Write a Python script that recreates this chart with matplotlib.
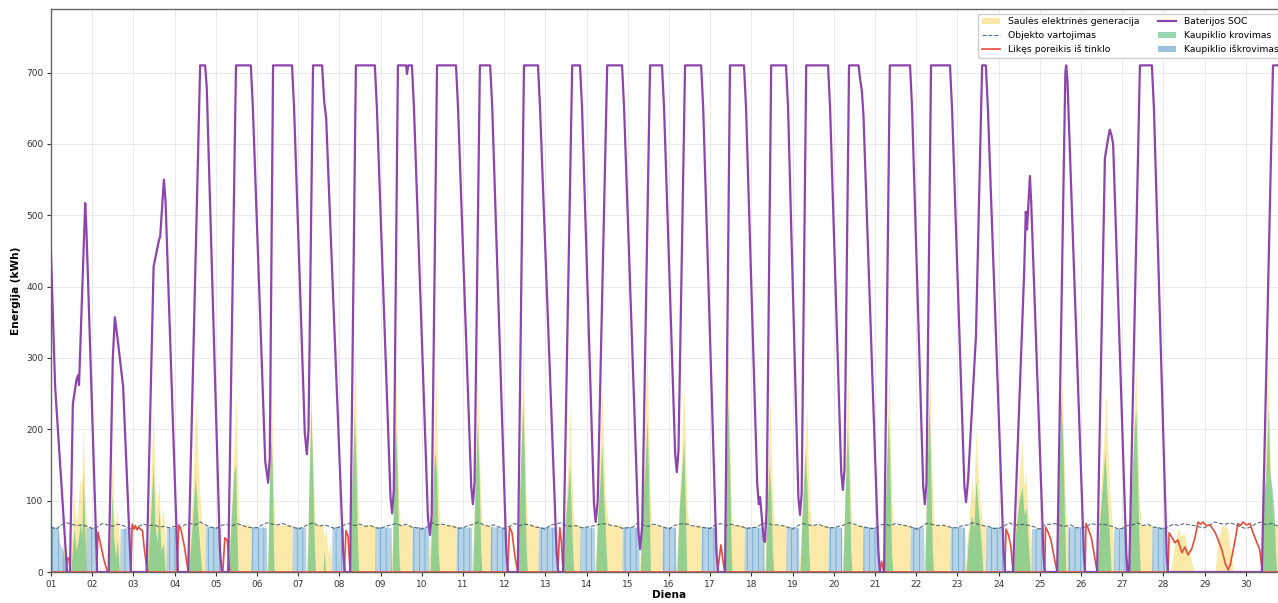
import numpy as np
import matplotlib
matplotlib.use('Agg')
import matplotlib.pyplot as plt
from matplotlib.patches import Patch
from matplotlib.lines import Line2D

# laikas dienomis nuo menesio pradzios (0 = 01 d. 00:00)
day_labels = ['%02d' % d for d in range(1, 31)]

# baterijos SOC (laikas, kWh)
soc_pts = [
    (0.00, 445), (0.10, 260), (0.39, 0), (0.46, 0), (0.53, 235), (0.62, 270), (0.66, 276), (0.68, 262),
    (0.83, 517), (0.86, 480), (1.12, 0),
    (1.40, 0), (1.50, 300), (1.55, 357), (1.62, 325), (1.75, 260), (1.94, 0),
    (2.32, 0), (2.49, 428), (2.62, 465), (2.65, 470), (2.74, 550), (2.78, 520), (3.08, 0),
    (3.33, 0), (3.62, 710), (3.74, 710), (3.78, 680), (4.10, 30), (4.15, 0),
    (4.30, 0), (4.49, 710), (4.85, 710), (4.90, 650), (5.20, 155), (5.27, 125), (5.31, 160), (5.39, 710),
    (5.85, 710), (5.90, 650), (6.16, 195), (6.21, 165), (6.25, 200), (6.36, 710),
    (6.58, 710), (6.63, 660), (6.68, 635), (6.73, 560), (7.09, 30), (7.13, 0),
    (7.26, 0), (7.40, 710),
    (7.86, 710), (7.91, 650), (8.24, 105), (8.28, 82), (8.32, 115), (8.42, 710),
    (8.62, 710), (8.64, 698), (8.67, 710), (8.76, 710), (8.81, 650), (9.15, 75), (9.20, 52), (9.24, 80), (9.37, 710),
    (9.83, 710), (9.88, 650), (10.20, 120), (10.24, 95), (10.28, 125), (10.41, 710),
    (10.66, 710), (10.71, 650), (11.05, 30), (11.09, 0), (11.33, 0), (11.48, 710),
    (11.82, 710), (11.87, 650), (12.27, 30), (12.31, 0), (12.43, 0), (12.65, 710),
    (12.84, 710), (12.89, 650), (13.18, 95), (13.22, 70), (13.27, 100), (13.50, 710),
    (13.86, 710), (13.91, 650), (14.26, 55), (14.30, 32), (14.35, 65), (14.54, 710),
    (14.83, 710), (14.88, 650), (15.15, 165), (15.19, 140), (15.23, 170), (15.39, 710),
    (15.78, 710), (15.83, 650), (16.15, 30), (16.19, 0), (16.36, 0), (16.48, 710),
    (16.82, 710), (16.87, 650), (17.14, 125), (17.18, 95), (17.21, 105), (17.24, 85), (17.30, 45), (17.33, 42),
    (17.37, 90), (17.48, 710),
    (17.84, 710), (17.89, 650), (18.14, 105), (18.18, 80), (18.22, 110), (18.33, 710),
    (18.86, 710), (18.91, 650), (19.18, 140), (19.22, 115), (19.26, 145), (19.37, 710),
    (19.60, 710), (19.64, 690), (19.68, 675), (19.72, 640), (20.08, 30), (20.12, 0), (20.22, 0), (20.36, 710),
    (20.85, 710), (20.90, 650), (21.17, 120), (21.21, 95), (21.25, 125), (21.36, 710),
    (21.82, 710), (21.87, 650), (22.17, 120), (22.21, 98), (22.26, 130), (22.45, 330), (22.60, 710),
    (22.69, 710), (22.74, 650), (23.12, 30), (23.16, 0), (23.35, 0), (23.62, 420), (23.66, 505), (23.69, 480),
    (23.76, 555), (23.79, 520), (24.09, 25), (24.12, 0),
    (24.42, 0), (24.62, 700), (24.64, 710), (24.67, 690), (25.07, 25), (25.10, 0),
    (25.39, 0), (25.58, 580), (25.65, 605), (25.70, 620), (25.74, 612), (25.78, 600), (26.10, 25), (26.13, 0),
    (26.17, 0), (26.43, 710),
    (26.72, 710), (26.77, 650), (27.08, 25), (27.11, 0),
    (29.39, 0), (29.66, 710), (30.20, 710),
]

# saules elektrines generacija
pv_pts = [
    (0.00, 0), (0.20, 0), (0.25, 25), (0.30, 45), (0.35, 20), (0.38, 0),
    (0.47, 0), (0.50, 40), (0.55, 115), (0.60, 70), (0.65, 85), (0.70, 130), (0.74, 110), (0.78, 200),
    (0.82, 120), (0.86, 70), (0.90, 40), (0.95, 0),
    (1.38, 0), (1.42, 40), (1.46, 110), (1.49, 170), (1.52, 90), (1.56, 60), (1.61, 90), (1.65, 50), (1.70, 25), (1.74, 0),
    (2.30, 0), (2.36, 50), (2.42, 120), (2.48, 230), (2.52, 130), (2.57, 90), (2.62, 130), (2.66, 60), (2.72, 90),
    (2.78, 40), (2.82, 0),
    (3.30, 0), (3.36, 40), (3.44, 110), (3.49, 200), (3.53, 240), (3.57, 150), (3.62, 100), (3.67, 66), (3.74, 66), (3.75, 0),
    (4.29, 0), (4.33, 40), (4.40, 120), (4.46, 200), (4.49, 250), (4.52, 160), (4.55, 95), (4.58, 66), (4.85, 66), (4.86, 0),
    (5.23, 0), (5.27, 30), (5.31, 150), (5.34, 305), (5.37, 200), (5.40, 110), (5.44, 66), (5.85, 66), (5.86, 0),
    (6.19, 0), (6.23, 40), (6.27, 150), (6.31, 265), (6.34, 180), (6.38, 110), (6.42, 66), (6.58, 66), (6.62, 50),
    (6.68, 60), (6.72, 25), (6.78, 40), (6.82, 0),
    (7.24, 0), (7.28, 60), (7.33, 180), (7.38, 320), (7.41, 200), (7.45, 100), (7.48, 66), (7.86, 66), (7.87, 0),
    (8.25, 0), (8.29, 50), (8.33, 170), (8.37, 285), (8.40, 190), (8.44, 100), (8.48, 66), (8.76, 66), (8.77, 0),
    (9.17, 0), (9.21, 50), (9.28, 150), (9.34, 280), (9.37, 190), (9.41, 100), (9.45, 66), (9.83, 66), (9.84, 0),
    (10.21, 0), (10.25, 50), (10.31, 160), (10.36, 270), (10.39, 180), (10.43, 100), (10.47, 66), (10.66, 66), (10.67, 0),
    (11.31, 0), (11.35, 60), (11.41, 180), (11.46, 320), (11.49, 200), (11.53, 100), (11.57, 66), (11.82, 66), (11.83, 0),
    (12.41, 0), (12.45, 50), (12.52, 120), (12.57, 170), (12.60, 240), (12.63, 150), (12.67, 90), (12.70, 66),
    (12.84, 66), (12.85, 0),
    (13.20, 0), (13.24, 50), (13.30, 130), (13.37, 255), (13.41, 180), (13.45, 110), (13.50, 80), (13.54, 66),
    (13.86, 66), (13.87, 0),
    (14.28, 0), (14.32, 50), (14.39, 150), (14.47, 320), (14.50, 210), (14.54, 110), (14.58, 66), (14.83, 66), (14.84, 0),
    (15.17, 0), (15.21, 50), (15.29, 150), (15.36, 260), (15.40, 170), (15.44, 90), (15.48, 66), (15.78, 66), (15.79, 0),
    (16.34, 0), (16.37, 60), (16.40, 190), (16.43, 330), (16.46, 220), (16.50, 110), (16.54, 66), (16.82, 66), (16.83, 0),
    (17.20, 0), (17.23, 110), (17.26, 30), (17.30, 0),
    (17.32, 0), (17.36, 60), (17.41, 160), (17.45, 250), (17.48, 170), (17.52, 100), (17.56, 66), (17.84, 66), (17.85, 0),
    (18.16, 0), (18.20, 50), (18.27, 140), (18.35, 230), (18.38, 150), (18.42, 90), (18.46, 66), (18.86, 66), (18.87, 0),
    (19.20, 0), (19.24, 50), (19.29, 160), (19.34, 280), (19.37, 180), (19.41, 100), (19.45, 66), (19.70, 66), (19.71, 0),
    (20.20, 0), (20.24, 60), (20.29, 170), (20.34, 290), (20.37, 190), (20.41, 100), (20.45, 66), (20.85, 66), (20.86, 0),
    (21.19, 0), (21.23, 60), (21.28, 170), (21.33, 290), (21.36, 190), (21.40, 100), (21.44, 66), (21.82, 66), (21.83, 0),
    (22.19, 0), (22.23, 40), (22.30, 90), (22.36, 130), (22.40, 100), (22.45, 200), (22.49, 150), (22.53, 110),
    (22.58, 80), (22.62, 66), (22.69, 66), (22.70, 0),
    (23.33, 0), (23.38, 40), (23.45, 100), (23.52, 150), (23.57, 185), (23.61, 120), (23.66, 140), (23.70, 90),
    (23.76, 60), (23.80, 30), (23.82, 0),
    (24.40, 0), (24.44, 60), (24.49, 170), (24.54, 270), (24.57, 200), (24.61, 110), (24.65, 70), (24.68, 50), (24.70, 0),
    (25.37, 0), (25.42, 50), (25.49, 130), (25.55, 180), (25.61, 250), (25.65, 170), (25.70, 110), (25.75, 70),
    (25.79, 40), (25.81, 0),
    (26.15, 0), (26.19, 60), (26.26, 170), (26.33, 290), (26.37, 200), (26.41, 110), (26.46, 66), (26.72, 66), (26.73, 0),
    (27.18, 0), (27.24, 30), (27.30, 45), (27.36, 62), (27.42, 50), (27.50, 55), (27.58, 35), (27.66, 20), (27.74, 0),
    (28.25, 0), (28.32, 40), (28.40, 62), (28.48, 66), (28.56, 60), (28.63, 30), (28.70, 0),
    (29.37, 0), (29.41, 40), (29.47, 150), (29.54, 300), (29.57, 200), (29.61, 120), (29.65, 80), (29.70, 66), (30.20, 66),
]

# kaupiklio krovimas
chg_pts = [
    (0.00, 0), (0.22, 0), (0.27, 15), (0.31, 25), (0.35, 0),
    (0.48, 0), (0.52, 30), (0.56, 60), (0.61, 30), (0.66, 45), (0.71, 70), (0.75, 50), (0.78, 140), (0.82, 60), (0.86, 0),
    (1.40, 0), (1.44, 40), (1.48, 110), (1.52, 50), (1.57, 20), (1.61, 45), (1.66, 0),
    (2.33, 0), (2.40, 60), (2.48, 150), (2.52, 70), (2.58, 40), (2.62, 90), (2.67, 30), (2.73, 40), (2.77, 0),
    (3.34, 0), (3.42, 60), (3.50, 135), (3.54, 100), (3.58, 60), (3.63, 20), (3.66, 0),
    (4.31, 0), (4.38, 80), (4.44, 140), (4.48, 150), (4.51, 60), (4.54, 0),
    (5.26, 0), (5.30, 120), (5.34, 190), (5.37, 150), (5.40, 30), (5.42, 0),
    (6.22, 0), (6.26, 120), (6.31, 230), (6.35, 150), (6.39, 40), (6.42, 0), (6.60, 0), (6.63, 30), (6.66, 0),
    (7.26, 0), (7.30, 110), (7.36, 220), (7.40, 160), (7.44, 40), (7.47, 0),
    (8.28, 0), (8.32, 120), (8.36, 200), (8.40, 150), (8.44, 30), (8.47, 0),
    (9.20, 0), (9.25, 90), (9.31, 170), (9.36, 140), (9.40, 30), (9.43, 0),
    (10.24, 0), (10.29, 110), (10.35, 210), (10.39, 140), (10.43, 30), (10.46, 0),
    (11.33, 0), (11.38, 120), (11.45, 240), (11.49, 160), (11.53, 40), (11.56, 0),
    (12.43, 0), (12.48, 70), (12.54, 110), (12.59, 150), (12.63, 80), (12.67, 20), (12.69, 0),
    (13.22, 0), (13.27, 80), (13.33, 130), (13.37, 180), (13.41, 110), (13.46, 50), (13.50, 0),
    (14.30, 0), (14.36, 90), (14.42, 150), (14.47, 215), (14.51, 120), (14.55, 0),
    (15.19, 0), (15.25, 90), (15.31, 140), (15.36, 185), (15.40, 80), (15.43, 0),
    (16.36, 0), (16.39, 130), (16.43, 240), (16.47, 150), (16.51, 30), (16.53, 0),
    (17.34, 0), (17.38, 80), (17.43, 150), (17.47, 110), (17.51, 30), (17.54, 0),
    (18.18, 0), (18.23, 80), (18.30, 170), (18.35, 120), (18.39, 30), (18.42, 0),
    (19.22, 0), (19.27, 100), (19.33, 205), (19.37, 140), (19.41, 30), (19.44, 0),
    (20.22, 0), (20.26, 110), (20.32, 220), (20.36, 150), (20.40, 30), (20.43, 0),
    (21.21, 0), (21.25, 110), (21.31, 235), (21.35, 150), (21.39, 30), (21.42, 0),
    (22.21, 0), (22.27, 50), (22.34, 80), (22.40, 60), (22.45, 130), (22.50, 90), (22.55, 60), (22.60, 20), (22.62, 0),
    (23.35, 0), (23.42, 60), (23.50, 100), (23.57, 120), (23.62, 80), (23.67, 90), (23.72, 40), (23.77, 0),
    (24.42, 0), (24.46, 120), (24.51, 250), (24.56, 180), (24.60, 80), (24.63, 0),
    (25.39, 0), (25.45, 70), (25.52, 120), (25.58, 170), (25.63, 110), (25.68, 60), (25.73, 0),
    (26.17, 0), (26.22, 110), (26.29, 200), (26.33, 230), (26.37, 140), (26.41, 40), (26.44, 0),
    (29.39, 0), (29.43, 110), (29.48, 130), (29.55, 230), (29.58, 140), (29.63, 120), (29.68, 90), (29.72, 30),
    (29.75, 0), (30.20, 0),
]

# kaupiklio iskrovimas
dis_pts = [
    (0.00, 63), (0.18, 62), (0.22, 40), (0.30, 30), (0.36, 10), (0.38, 0),
    (0.86, 0), (0.87, 62), (1.10, 62), (1.11, 0),
    (1.68, 0), (1.69, 60), (1.92, 62), (1.93, 0),
    (2.80, 0), (2.81, 62), (3.06, 62), (3.07, 0),
    (3.75, 0), (3.76, 63), (4.13, 62), (4.14, 0),
    (4.86, 0), (4.87, 63), (5.24, 62), (5.25, 0),
    (5.86, 0), (5.87, 63), (6.19, 62), (6.20, 0),
    (6.82, 0), (6.83, 63), (7.11, 62), (7.12, 0),
    (7.87, 0), (7.88, 63), (8.26, 62), (8.27, 0),
    (8.77, 0), (8.78, 63), (9.18, 62), (9.19, 0),
    (9.84, 0), (9.85, 63), (10.22, 62), (10.23, 0),
    (10.67, 0), (10.68, 63), (11.07, 62), (11.08, 0),
    (11.83, 0), (11.84, 63), (12.29, 62), (12.30, 0),
    (12.85, 0), (12.86, 63), (13.20, 62), (13.21, 0),
    (13.87, 0), (13.88, 63), (14.28, 62), (14.29, 0),
    (14.84, 0), (14.85, 63), (15.17, 62), (15.18, 0),
    (15.79, 0), (15.80, 63), (16.17, 62), (16.18, 0),
    (16.83, 0), (16.84, 63), (17.31, 62), (17.32, 0),
    (17.85, 0), (17.86, 63), (18.16, 62), (18.17, 0),
    (18.87, 0), (18.88, 63), (19.20, 62), (19.21, 0),
    (19.71, 0), (19.72, 63), (20.10, 62), (20.11, 0),
    (20.86, 0), (20.87, 63), (21.19, 62), (21.20, 0),
    (21.83, 0), (21.84, 63), (22.19, 62), (22.20, 0),
    (22.70, 0), (22.71, 63), (23.14, 62), (23.15, 0),
    (23.80, 0), (23.81, 60), (24.10, 62), (24.11, 0),
    (24.68, 0), (24.69, 63), (25.08, 62), (25.09, 0),
    (25.80, 0), (25.81, 60), (26.11, 62), (26.12, 0),
    (26.73, 0), (26.74, 63), (27.09, 62), (27.10, 0),
    (30.20, 0),
]

# likes poreikis is tinklo
grid_pts = [
    (0.00, 0), (0.37, 0), (0.40, 20), (0.44, 17), (0.47, 0),
    (1.11, 0), (1.14, 56), (1.20, 40), (1.28, 18), (1.37, 0),
    (1.94, 0), (1.97, 67), (2.01, 61), (2.05, 65), (2.09, 59), (2.13, 63), (2.17, 60), (2.22, 58), (2.26, 35),
    (2.31, 12), (2.35, 0),
    (3.06, 0), (3.10, 66), (3.16, 58), (3.24, 35), (3.33, 0),
    (4.17, 0), (4.22, 48), (4.28, 44), (4.34, 0),
    (7.12, 0), (7.16, 58), (7.21, 50), (7.26, 0),
    (11.08, 0), (11.13, 63), (11.19, 55), (11.26, 22), (11.33, 0),
    (12.30, 0), (12.35, 62), (12.39, 40), (12.43, 0),
    (16.18, 0), (16.26, 38), (16.30, 20), (16.35, 0),
    (20.12, 0), (20.16, 15), (20.21, 0),
    (23.15, 0), (23.18, 60), (23.24, 52), (23.30, 35), (23.35, 0),
    (24.12, 0), (24.14, 63), (24.20, 56), (24.27, 45), (24.35, 20), (24.42, 0),
    (25.10, 0), (25.12, 68), (25.18, 60), (25.25, 48), (25.32, 25), (25.39, 0),
    (27.11, 0), (27.14, 55), (27.21, 48), (27.28, 41), (27.35, 45), (27.45, 27), (27.52, 35), (27.60, 24),
    (27.69, 33), (27.77, 49), (27.84, 70), (27.90, 67), (27.96, 70), (28.04, 65), (28.13, 66), (28.25, 56),
    (28.33, 45), (28.42, 31), (28.50, 12), (28.57, 3), (28.62, 10), (28.67, 24), (28.74, 45), (28.81, 68),
    (28.87, 65), (28.93, 70), (29.02, 66), (29.10, 68), (29.17, 56), (29.27, 41), (29.34, 31), (29.40, 0),
    (30.20, 0),
]

# objekto vartojimas kas 3 val.
cons_rows = [
    [63, 60, 66, 69, 67, 65, 66, 64], [61, 63, 68, 66, 64, 67, 65, 62], [60, 64, 67, 65, 66, 63, 64, 62],
    [64, 62, 66, 68, 66, 70, 66, 63], [61, 65, 67, 64, 68, 66, 63, 62], [62, 66, 69, 67, 66, 68, 65, 63],
    [60, 63, 67, 69, 64, 66, 64, 61], [63, 66, 68, 65, 67, 64, 65, 62], [61, 64, 66, 68, 65, 67, 63, 62],
    [60, 63, 69, 66, 67, 65, 64, 61], [62, 65, 67, 70, 66, 64, 66, 63], [61, 64, 68, 65, 67, 66, 63, 62],
    [60, 66, 67, 69, 65, 64, 65, 62], [63, 64, 66, 68, 67, 65, 64, 61], [62, 63, 69, 66, 64, 67, 65, 63],
    [60, 65, 67, 68, 66, 64, 63, 62], [61, 66, 68, 65, 67, 65, 64, 61], [62, 63, 67, 69, 66, 66, 65, 63],
    [60, 65, 68, 66, 65, 67, 64, 62], [62, 64, 66, 69, 67, 64, 63, 61], [61, 66, 67, 65, 68, 66, 65, 63],
    [60, 63, 68, 67, 65, 66, 64, 62], [62, 65, 66, 69, 67, 65, 64, 61], [61, 64, 69, 66, 66, 67, 65, 63],
    [60, 66, 67, 68, 65, 64, 66, 62], [62, 63, 68, 66, 67, 66, 64, 61], [61, 65, 66, 69, 65, 67, 63, 62],
    [60, 64, 67, 65, 68, 66, 65, 63], [62, 66, 70, 68, 67, 69, 66, 63], [61, 63, 68, 70, 66, 68, 65, 62],
    [62, 64, 67, 66, 65, 66, 64, 63],
]


def split(pts):
    arr = np.array(pts, dtype=float)
    return arr[:, 0], arr[:, 1]


soc_t, soc_v = split(soc_pts)
pv_t, pv_v = split(pv_pts)
chg_t, chg_v = split(chg_pts)
dis_t, dis_v = split(dis_pts)
grid_t, grid_v = split(grid_pts)
cons_v = np.array(cons_rows, dtype=float).ravel()
cons_t = np.arange(len(cons_v)) * 0.125

plt.rcParams['hatch.linewidth'] = 0.5

fig = plt.figure(figsize=(12.78, 6.03), dpi=100)
ax = fig.add_axes([51 / 1278, 31 / 603, 1236 / 1278, 563 / 603])

ax.fill_between(pv_t, 0, pv_v, color='#f4d03f', alpha=0.45, lw=0, zorder=1)
ax.fill_between(chg_t, 0, chg_v, color='#52be80', alpha=0.6, lw=0, zorder=2)
ax.fill_between(dis_t, 0, dis_v, facecolor='#a9cce3', edgecolor='#5499c7', hatch='|||', lw=0, alpha=0.85, zorder=2)
ax.plot(cons_t, cons_v, ls='--', color='#34495e', lw=0.8, alpha=0.8, zorder=3)
ax.plot(grid_t, grid_v, color='#e74c3c', lw=1.2, zorder=4)
ax.plot(soc_t, soc_v, color='#8e44ad', lw=1.6, zorder=5)

ax.set_xlim(0, 30)
ax.set_ylim(0, 789)
ax.set_xticks(np.arange(0, 30))
ax.set_xticklabels(day_labels)
ax.set_yticks(np.arange(0, 800, 100))
ax.tick_params(labelsize=6.5, colors='#333333', length=3, pad=2.5)
ax.grid(True, color='#e6e6e6', lw=0.6, zorder=0)
ax.set_axisbelow(True)
for s in ax.spines.values():
    s.set_color('#666666')
    s.set_linewidth(1.0)

ax.set_xlabel('Diena', fontsize=7.6, fontweight='bold', labelpad=1)
ax.set_ylabel('Energija (kWh)', fontsize=7.6, fontweight='bold')
ax.set_title('Energijos srautai per mėnesį', fontsize=9, fontweight='bold', pad=8.5)

handles = [
    Patch(facecolor='#f4d03f', alpha=0.45, label='Saulės elektrinės generacija'),
    Line2D([0], [0], ls='--', color='#34495e', lw=0.8, alpha=0.8, label='Objekto vartojimas'),
    Line2D([0], [0], color='#e74c3c', lw=1.2, label='Likęs poreikis iš tinklo'),
    Line2D([0], [0], color='#8e44ad', lw=1.6, label='Baterijos SOC'),
    Patch(facecolor='#52be80', alpha=0.6, label='Kaupiklio krovimas'),
    Patch(facecolor='#7fb3d5', alpha=0.8, label='Kaupiklio iškrovimas'),
]
ax.legend(handles=handles, loc='upper right', ncol=2, fontsize=6.7, framealpha=0.95, edgecolor='#cccccc')

fig.savefig('out.png', dpi=100)
